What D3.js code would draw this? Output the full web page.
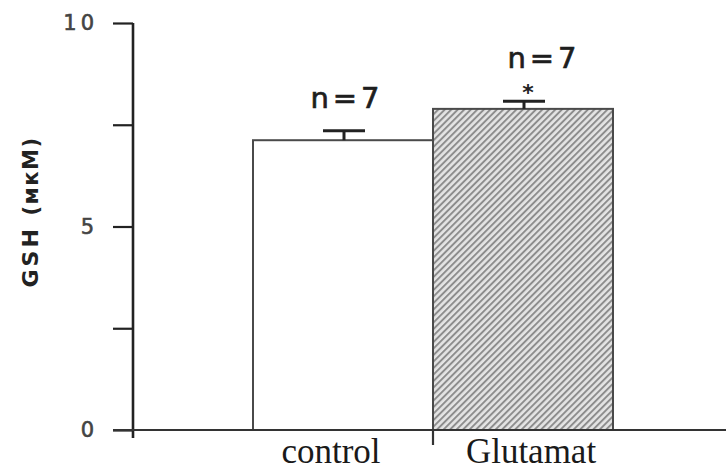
<!DOCTYPE html>
<html>
<head>
<meta charset="utf-8">
<script src="https://cdn.jsdelivr.net/npm/d3@7"></script>
<style>
  html, body { margin: 0; padding: 0; background: #fff; }
  svg { display: block; }
</style>
</head>
<body>
<script>
// ---- data ----
const categories = ["control", "Glutamat"];
const means = [7.12, 7.89];
const sems = [0.23, 0.19];
const nLabels = ["n=7", "n=7"];
const significance = ["", "*"];
const yTickValues = [0, 2.5, 5, 7.5, 10];
const yTickLabels = ["0", "", "5", "", "10"];
const yTitle = "GSH";
const yUnit = "(мкМ)";

// ---- layout ----
const W = 726, H = 470;
const svg = d3.select("body").append("svg").attr("width", W).attr("height", H);

const defs = svg.append("defs");
const pat = defs.append("pattern")
  .attr("id", "hatch")
  .attr("patternUnits", "userSpaceOnUse")
  .attr("width", 4.6).attr("height", 4.6)
  .attr("patternTransform", "rotate(45)");
pat.append("rect").attr("width", 4.6).attr("height", 4.6).attr("fill", "#e4e4e4");
pat.append("line").attr("x1", 1).attr("y1", 0).attr("x2", 1).attr("y2", 4.6)
  .attr("stroke", "#8a8a8a").attr("stroke-width", 1.9);

const y = d3.scaleLinear().domain([0, 10]).range([430, 23]);
const x = d3.scaleBand().domain(categories).range([253, 613]).padding(0);
const axisX = 133;

// bars
const fills = ["#ffffff", "url(#hatch)"];
svg.append("g").selectAll("rect").data(categories).join("rect")
  .attr("x", d => x(d))
  .attr("y", (d, i) => y(means[i]))
  .attr("width", x.bandwidth())
  .attr("height", (d, i) => y(0) - y(means[i]))
  .attr("fill", (d, i) => fills[i])
  .attr("stroke", "#4a4a4a")
  .attr("stroke-width", 2);

// error bars (upper)
const eb = svg.append("g").attr("stroke", "#222").attr("stroke-width", 3);
categories.forEach((c, i) => {
  const cx = x(c) + x.bandwidth() / 2 + 1;
  eb.append("line").attr("x1", cx).attr("x2", cx)
    .attr("y1", y(means[i])).attr("y2", y(means[i] + sems[i]));
  eb.append("line").attr("x1", cx - 21).attr("x2", cx + 21)
    .attr("y1", y(means[i] + sems[i])).attr("y2", y(means[i] + sems[i]));
});

// significance star
categories.forEach((c, i) => {
  if (!significance[i]) return;
  svg.append("text")
    .attr("x", x(c) + x.bandwidth() / 2 + 5)
    .attr("y", y(means[i] + sems[i]) - 1)
    .attr("text-anchor", "middle")
    .attr("font-family", "DejaVu Sans")
    .attr("font-weight", "bold")
    .attr("font-size", 22)
    .attr("fill", "#222")
    .text(significance[i]);
});

// n labels
const nDx = [4, 21];
const nDy = [-23, -33];
categories.forEach((c, i) => {
  svg.append("text")
    .attr("x", x(c) + x.bandwidth() / 2 + nDx[i])
    .attr("y", y(means[i] + sems[i]) + nDy[i])
    .attr("text-anchor", "middle")
    .attr("font-family", "DejaVu Sans")
    .attr("font-size", 29)
    .attr("letter-spacing", 4)
    .attr("fill", "#1e1e1e")
    .attr("stroke", "#1e1e1e")
    .attr("stroke-width", 0.7)
    .text(nLabels[i]);
});

// y axis
const yAxis = d3.axisLeft(y)
  .tickValues(yTickValues)
  .tickFormat((d, i) => yTickLabels[i])
  .tickSize(20)
  .tickPadding(15);
const gy = svg.append("g").attr("transform", `translate(${axisX},0)`).call(yAxis);
gy.attr("font-size", null).attr("font-family", null);
gy.select(".domain").remove();
gy.selectAll(".tick line").attr("stroke", "#222").attr("stroke-width", 2.2);
gy.selectAll(".tick text")
  .attr("font-family", "DejaVu Sans")
  .attr("font-size", 21)
  .attr("letter-spacing", 4)
  .attr("fill", "#444")
  .attr("stroke", "#444")
  .attr("stroke-width", 0.6);
svg.append("line")
  .attr("x1", axisX).attr("x2", axisX)
  .attr("y1", y(10)).attr("y2", y(0) + 8)
  .attr("stroke", "#222").attr("stroke-width", 2.6);

// x axis
svg.append("line")
  .attr("x1", axisX - 20).attr("x2", W)
  .attr("y1", y(0)).attr("y2", y(0))
  .attr("stroke", "#333").attr("stroke-width", 2.2);
svg.append("line")
  .attr("x1", x(categories[1])).attr("x2", x(categories[1]))
  .attr("y1", y(0)).attr("y2", y(0) + 15)
  .attr("stroke", "#333").attr("stroke-width", 2.2);

// x labels
const labDx = [-12, 8];
categories.forEach((c, i) => {
  svg.append("text")
    .attr("x", x(c) + x.bandwidth() / 2 + labDx[i])
    .attr("y", 463)
    .attr("text-anchor", "middle")
    .attr("font-family", "Liberation Serif")
    .attr("font-size", 35)
    .attr("fill", "#1a1a1a")
    .text(c);
});

// y title
const yt = svg.append("text")
  .attr("transform", "translate(38,212) rotate(-90)")
  .attr("text-anchor", "middle")
  .attr("font-family", "DejaVu Sans")
  .attr("font-weight", "bold")
  .attr("fill", "#222");
yt.append("tspan").attr("font-size", 22).attr("letter-spacing", 3).text(yTitle + " ");
yt.append("tspan").attr("font-size", 21).attr("letter-spacing", 1.5).text(yUnit);
</script>
</body>
</html>
